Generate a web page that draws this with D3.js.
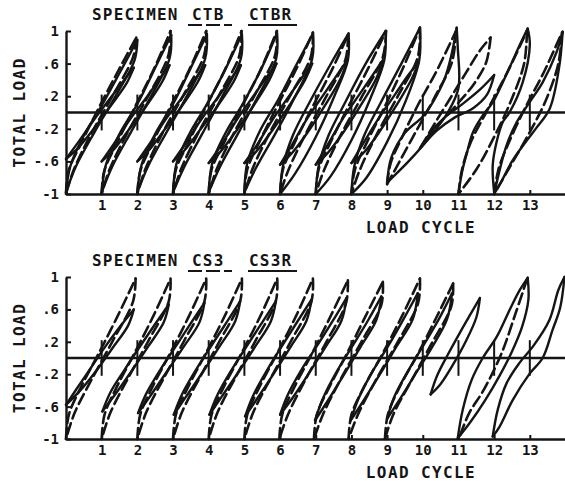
<!DOCTYPE html>
<html>
<head>
<meta charset="utf-8">
<script src="https://cdn.jsdelivr.net/npm/d3@7"></script>
<style>
  body { margin: 0; background: #fff; }
  text { font-family: "DejaVu Sans Mono", monospace; font-weight: bold; fill: #151515; }
</style>
</head>
<body>
<svg id="chart" width="565" height="481"></svg>
<script>
// load cycle ticks and load ticks
const cycleTicks = [1, 2, 3, 4, 5, 6, 7, 8, 9, 10, 11, 12, 13]
const loadTicks = [-1, -0.6, -0.2, 0.2, 0.6, 1]
const loadLabels = ['-1', '-.6', '-.2', '.2', '.6', '1']
// little vertical reversal marks at each cycle
const reversalLoad = [0.22, -0.22]

// specimen CTB (dashed), one loop per cycle, [cycle, load]
const ctbLoops = [
  [[0, -1], [0.07, -0.72], [0.4, -0.4], [0.9, 0.04], [1.45, 0.5], [1.97, 0.92], [1.88, 0.68], [1.3, 0.2], [0.72, -0.25], [0.22, -0.7], [0, -1]],
  [[1, -1], [1.07, -0.72], [1.4, -0.4], [1.9, 0.04], [2.45, 0.52], [2.93, 1.0], [2.87, 0.7], [2.3, 0.2], [1.72, -0.25], [1.22, -0.7], [1, -1]],
  [[2, -1], [2.08, -0.72], [2.4, -0.4], [2.9, 0.05], [3.45, 0.52], [3.93, 1.0], [3.87, 0.7], [3.3, 0.22], [2.72, -0.24], [2.22, -0.7], [2, -1]],
  [[3, -1], [3.08, -0.7], [3.42, -0.38], [3.9, 0.05], [4.45, 0.52], [4.92, 1.0], [4.86, 0.7], [4.3, 0.22], [3.72, -0.24], [3.22, -0.7], [3, -1]],
  [[4, -1], [4.08, -0.7], [4.42, -0.38], [4.9, 0.05], [5.45, 0.52], [5.91, 1.0], [5.86, 0.7], [5.3, 0.22], [4.72, -0.24], [4.22, -0.7], [4, -1]],
  [[5, -1], [5.08, -0.7], [5.42, -0.36], [5.9, 0.06], [6.45, 0.53], [6.92, 0.98], [6.86, 0.68], [6.3, 0.22], [5.72, -0.24], [5.22, -0.7], [5, -1]],
  [[6, -1], [6.08, -0.7], [6.42, -0.36], [6.9, 0.06], [7.45, 0.52], [7.9, 0.95], [7.84, 0.66], [7.3, 0.2], [6.72, -0.26], [6.22, -0.72], [6, -1]],
  [[7, -1], [7.08, -0.7], [7.42, -0.36], [7.9, 0.06], [8.48, 0.55], [8.97, 1.0], [8.88, 0.68], [8.3, 0.2], [7.72, -0.26], [7.22, -0.72], [7, -1]],
  [[8, -1], [8.1, -0.7], [8.44, -0.36], [8.92, 0.06], [9.45, 0.55], [9.92, 1.04], [9.86, 0.68], [9.3, 0.2], [8.72, -0.26], [8.22, -0.72], [8, -1]],
  [[9, -0.88], [9.1, -0.62], [9.4, -0.32], [9.85, 0.08], [10.4, 0.52], [10.93, 1.0], [10.82, 0.62], [10.35, 0.2], [9.85, -0.2], [9.35, -0.6], [9, -0.88]],
  [[9.95, -0.42], [10.3, -0.16], [10.75, 0.16], [11.2, 0.48], [11.6, 0.76], [11.9, 0.92], [11.78, 0.62], [11.45, 0.36], [11.0, 0.12], [10.5, -0.12], [9.95, -0.42]],
  [[11, -1], [11.1, -0.7], [11.35, -0.36], [11.8, 0.02], [12.4, 0.52], [12.92, 1.0], [12.84, 0.6], [12.45, 0.12], [12.0, -0.3], [11.5, -0.7], [11, -1]],
  [[12, -1], [12.12, -0.7], [12.4, -0.38], [12.85, 0.04], [13.4, 0.5], [13.9, 0.98], [13.8, 0.6], [13.45, 0.15], [12.95, -0.28], [12.45, -0.66], [12, -1]]
]

// specimen CTBR (solid)
const ctbrLoops = [
  [[0, -0.98], [0.12, -0.66], [0.48, -0.3], [1.02, 0.1], [1.52, 0.5], [2.0, 0.89], [1.92, 0.64], [1.36, 0.18], [0.8, -0.24], [0.28, -0.66], [0, -0.98]],
  [[1, -0.98], [1.12, -0.64], [1.48, -0.28], [2.02, 0.12], [2.5, 0.55], [2.95, 0.95], [2.9, 0.66], [2.36, 0.18], [1.82, -0.24], [1.3, -0.66], [1, -0.98]],
  [[2, -0.98], [2.12, -0.64], [2.48, -0.28], [3.02, 0.12], [3.5, 0.55], [3.95, 0.96], [3.9, 0.66], [3.36, 0.18], [2.82, -0.24], [2.3, -0.66], [2, -0.98]],
  [[3, -0.98], [3.1, -0.62], [3.46, -0.26], [4.0, 0.14], [4.5, 0.56], [4.93, 0.96], [4.9, 0.66], [4.36, 0.18], [3.82, -0.26], [3.3, -0.68], [3, -0.98]],
  [[4, -0.98], [4.1, -0.62], [4.46, -0.26], [5.0, 0.14], [5.5, 0.56], [5.91, 0.97], [5.89, 0.66], [5.36, 0.18], [4.82, -0.26], [4.3, -0.68], [4, -0.98]],
  [[5, -0.98], [5.08, -0.62], [5.42, -0.24], [5.95, 0.16], [6.45, 0.58], [6.92, 0.97], [6.9, 0.66], [6.38, 0.16], [5.84, -0.28], [5.3, -0.7], [5, -0.98]],
  [[6, -1], [6.08, -0.66], [6.36, -0.28], [6.82, 0.12], [7.4, 0.58], [7.92, 0.97], [7.9, 0.64], [7.52, 0.2], [7.0, -0.3], [6.42, -0.75], [6, -1]],
  [[7, -1], [7.08, -0.66], [7.36, -0.28], [7.82, 0.12], [8.4, 0.6], [8.96, 1.0], [8.92, 0.64], [8.52, 0.16], [8.0, -0.34], [7.42, -0.78], [7, -1]],
  [[8, -1], [8.08, -0.66], [8.36, -0.28], [8.82, 0.12], [9.4, 0.6], [9.92, 1.04], [9.9, 0.64], [9.52, 0.14], [9.0, -0.36], [8.42, -0.8], [8, -1]],
  [[9, -0.86], [9.12, -0.55], [9.5, -0.25], [10.0, -0.05], [10.3, 0.14], [10.6, 0.4], [10.8, 0.7], [10.95, 1.04], [10.98, 0.8], [11.0, 0.3], [10.7, 0.0], [10.2, -0.3], [9.6, -0.6], [9, -0.86]],
  [[9.92, -0.44], [10.3, -0.2], [10.7, -0.03], [11.1, 0.1], [11.6, 0.28], [12.0, 0.46], [11.8, 0.22], [11.4, 0.05], [10.9, -0.06], [10.4, -0.22], [9.92, -0.44]],
  [[11, -1], [11.1, -0.73], [11.24, -0.49], [11.41, -0.24], [11.69, -0.03], [11.97, 0.13], [12.43, 0.55], [12.72, 0.83], [12.94, 1.03], [13.0, 0.83], [12.8, 0.37], [12.43, 0.0], [12.24, -0.12], [12.07, -0.36], [11.96, -0.65], [12, -0.98]],
  [[12, -1], [12.17, -0.68], [12.35, -0.4], [12.63, -0.12], [13.0, 0.13], [13.36, 0.37], [13.75, 0.74], [13.92, 0.99], [13.82, 0.55], [13.56, 0.05], [13.2, -0.18], [12.92, -0.34], [12.5, -0.6], [12.2, -0.85], [12, -1]]
]

// CTBR partial cycles to about +-0.6 load
const ctbrSmallLoops = [
  [[0, -0.57], [0.35, -0.36], [0.8, -0.08], [1.25, 0.18], [1.6, 0.38], [1.9, 0.55], [1.7, 0.36], [1.25, 0.08], [0.78, -0.2], [0.33, -0.44], [0, -0.57]],
  [[1, -0.6], [1.35, -0.38], [1.8, -0.08], [2.25, 0.18], [2.6, 0.4], [2.9, 0.58], [2.7, 0.38], [2.25, 0.08], [1.78, -0.2], [1.33, -0.46], [1, -0.6]],
  [[2, -0.6], [2.35, -0.38], [2.8, -0.08], [3.25, 0.18], [3.6, 0.4], [3.9, 0.58], [3.7, 0.38], [3.25, 0.08], [2.78, -0.2], [2.33, -0.46], [2, -0.6]],
  [[3, -0.6], [3.35, -0.38], [3.8, -0.08], [4.25, 0.18], [4.6, 0.4], [4.9, 0.58], [4.7, 0.38], [4.25, 0.08], [3.78, -0.2], [3.33, -0.46], [3, -0.6]],
  [[4, -0.62], [4.35, -0.4], [4.8, -0.08], [5.25, 0.2], [5.6, 0.42], [5.9, 0.6], [5.7, 0.4], [5.25, 0.08], [4.78, -0.22], [4.33, -0.48], [4, -0.62]],
  [[5, -0.62], [5.35, -0.4], [5.8, -0.08], [6.25, 0.2], [6.6, 0.42], [6.9, 0.6], [6.7, 0.4], [6.25, 0.08], [5.78, -0.22], [5.33, -0.48], [5, -0.62]],
  [[6, -0.64], [6.33, -0.4], [6.78, -0.06], [7.22, 0.22], [7.58, 0.45], [7.88, 0.64], [7.7, 0.42], [7.25, 0.08], [6.78, -0.24], [6.33, -0.5], [6, -0.64]],
  [[7, -0.64], [7.33, -0.4], [7.78, -0.06], [8.22, 0.22], [8.58, 0.45], [8.88, 0.64], [8.7, 0.42], [8.25, 0.08], [7.78, -0.24], [7.33, -0.5], [7, -0.64]],
  [[8, -0.62], [8.33, -0.38], [8.78, -0.06], [9.22, 0.22], [9.58, 0.45], [9.88, 0.62], [9.7, 0.42], [9.25, 0.08], [8.78, -0.24], [8.33, -0.5], [8, -0.62]]
]

// specimen CS3 (dashed)
const cs3Loops = [
  [[0, -1], [0.08, -0.7], [0.42, -0.36], [0.92, 0.06], [1.45, 0.52], [1.95, 0.98], [1.88, 0.7], [1.32, 0.22], [0.75, -0.24], [0.24, -0.68], [0, -1]],
  [[1, -1], [1.08, -0.7], [1.42, -0.36], [1.92, 0.06], [2.45, 0.52], [2.93, 0.98], [2.88, 0.7], [2.32, 0.22], [1.75, -0.24], [1.24, -0.68], [1, -1]],
  [[2, -1], [2.08, -0.7], [2.42, -0.36], [2.92, 0.06], [3.45, 0.52], [3.93, 0.98], [3.88, 0.7], [3.32, 0.22], [2.75, -0.24], [2.24, -0.68], [2, -1]],
  [[3, -1], [3.08, -0.7], [3.42, -0.36], [3.92, 0.06], [4.45, 0.52], [4.93, 0.98], [4.88, 0.7], [4.32, 0.22], [3.75, -0.24], [3.24, -0.68], [3, -1]],
  [[4, -1], [4.08, -0.7], [4.42, -0.36], [4.92, 0.06], [5.45, 0.52], [5.92, 0.98], [5.88, 0.7], [5.32, 0.22], [4.75, -0.24], [4.24, -0.68], [4, -1]],
  [[5, -1], [5.08, -0.7], [5.42, -0.36], [5.92, 0.06], [6.45, 0.52], [6.92, 0.98], [6.88, 0.7], [6.32, 0.22], [5.75, -0.24], [5.24, -0.68], [5, -1]],
  [[5.98, -1], [6.06, -0.7], [6.4, -0.36], [6.9, 0.06], [7.42, 0.52], [7.9, 0.96], [7.85, 0.68], [7.3, 0.2], [6.72, -0.26], [6.22, -0.7], [5.98, -1]],
  [[6.95, -1], [7.03, -0.7], [7.38, -0.36], [7.88, 0.06], [8.4, 0.52], [8.88, 0.94], [8.84, 0.66], [8.28, 0.2], [7.7, -0.26], [7.2, -0.7], [6.95, -1]],
  [[7.92, -1], [8.0, -0.7], [8.35, -0.36], [8.88, 0.06], [9.42, 0.52], [9.92, 0.98], [9.87, 0.68], [9.3, 0.2], [8.7, -0.26], [8.18, -0.7], [7.92, -1]],
  [[8.94, -1], [9.02, -0.7], [9.35, -0.36], [9.85, 0.04], [10.38, 0.5], [10.85, 0.92], [10.8, 0.64], [10.25, 0.18], [9.68, -0.28], [9.17, -0.7], [8.94, -1]],
  [[11.05, -0.95], [11.3, -0.68], [11.7, -0.4], [12.2, 0.05], [12.6, 0.55], [12.92, 0.97]]
]

// specimen CS3R (solid)
const cs3rLoops = [
  [[0, -0.58], [0.3, -0.38], [0.7, -0.12], [1.1, 0.14], [1.5, 0.38], [1.9, 0.6], [1.74, 0.4], [1.3, 0.12], [0.86, -0.15], [0.4, -0.4], [0, -0.58]],
  [[1.02, -0.66], [1.25, -0.42], [1.65, -0.14], [2.1, 0.16], [2.5, 0.42], [2.88, 0.66], [2.74, 0.44], [2.3, 0.14], [1.84, -0.16], [1.36, -0.46], [1.02, -0.66]],
  [[2.02, -0.68], [2.25, -0.44], [2.65, -0.14], [3.1, 0.16], [3.5, 0.43], [3.88, 0.68], [3.74, 0.44], [3.3, 0.14], [2.84, -0.16], [2.36, -0.47], [2.02, -0.68]],
  [[3.02, -0.7], [3.25, -0.45], [3.65, -0.14], [4.1, 0.17], [4.5, 0.44], [4.88, 0.7], [4.74, 0.45], [4.3, 0.14], [3.84, -0.17], [3.36, -0.48], [3.02, -0.7]],
  [[4.02, -0.7], [4.25, -0.45], [4.65, -0.14], [5.1, 0.17], [5.5, 0.44], [5.88, 0.7], [5.74, 0.45], [5.3, 0.14], [4.84, -0.17], [4.36, -0.48], [4.02, -0.7]],
  [[5.02, -0.72], [5.25, -0.46], [5.65, -0.14], [6.1, 0.18], [6.5, 0.46], [6.88, 0.72], [6.74, 0.46], [6.3, 0.14], [5.84, -0.18], [5.36, -0.5], [5.02, -0.72]],
  [[6.0, -0.7], [6.22, -0.45], [6.62, -0.13], [7.08, 0.18], [7.48, 0.46], [7.86, 0.74], [7.72, 0.46], [7.28, 0.14], [6.82, -0.18], [6.34, -0.5], [6.0, -0.7]],
  [[6.98, -0.77], [7.2, -0.5], [7.6, -0.16], [8.06, 0.17], [8.46, 0.46], [8.84, 0.76], [8.7, 0.47], [8.26, 0.14], [7.8, -0.2], [7.32, -0.54], [6.98, -0.77]],
  [[7.98, -0.77], [8.2, -0.5], [8.6, -0.16], [9.06, 0.17], [9.46, 0.48], [9.86, 0.8], [9.72, 0.48], [9.26, 0.14], [8.8, -0.2], [8.32, -0.54], [7.98, -0.77]],
  [[9.0, -0.75], [9.2, -0.48], [9.6, -0.15], [10.05, 0.18], [10.45, 0.48], [10.82, 0.8], [10.68, 0.48], [10.24, 0.12], [9.79, -0.2], [9.34, -0.52], [9.0, -0.75]],
  [[10.22, -0.45], [10.4, -0.22], [10.7, 0.04], [11.05, 0.32], [11.35, 0.55], [11.6, 0.74], [11.5, 0.5], [11.2, 0.2], [10.85, -0.08], [10.5, -0.32], [10.22, -0.45]],
  [[10.98, -0.99], [11.12, -0.64], [11.37, -0.27], [11.68, 0], [12.07, 0.26], [12.43, 0.59], [12.72, 0.84], [12.94, 0.99], [12.96, 0.72], [12.78, 0.38], [12.5, 0.08], [12.15, -0.22], [11.75, -0.52], [11.32, -0.8], [10.98, -0.99]],
  [[11.96, -0.97], [12.1, -0.64], [12.35, -0.31], [12.71, -0.06], [13.1, 0.15], [13.55, 0.47], [13.8, 0.84], [13.97, 1.0], [13.85, 0.62], [13.64, 0.35], [13.36, 0.0], [13.0, -0.19], [12.52, -0.52], [12.15, -0.85], [11.96, -0.97]]
]

const svg = d3.select('#chart')
const x = d3.scaleLinear().domain([0, 14]).range([66, 565.5])

const panels = [
  { top: 31, bottom: 194, dashedName: 'CTB', solidName: 'CTBR', dashed: ctbLoops, solid: ctbrLoops.concat(ctbrSmallLoops) },
  { top: 277, bottom: 439, dashedName: 'CS3', solidName: 'CS3R', dashed: cs3Loops, solid: cs3rLoops }
]

const line = d3.line()
  .x(function (d) { return x(d[0]) })
  .curve(d3.curveCatmullRom.alpha(0.5))

// split a loop at its peak so the tip stays sharp
function branches (loop) {
  const i = d3.maxIndex(loop, function (d) { return d[1] })
  return [loop.slice(0, i + 1), loop.slice(i)].filter(function (b) { return b.length > 1 })
}

panels.forEach(function (p) {
  const y = d3.scaleLinear().domain([-1, 1]).range([p.bottom, p.top])
  line.y(function (d) { return y(d[1]) })
  const g = svg.append('g')

  // title with legend underlines
  const ty = p.top - 11
  g.append('text').attr('x', 92).attr('y', ty).attr('font-size', 16).attr('letter-spacing', 1.2).text('SPECIMEN')
  g.append('text').attr('x', 192).attr('y', ty).attr('font-size', 16).attr('letter-spacing', 1.2).text(p.dashedName)
  g.append('text').attr('x', 249).attr('y', ty).attr('font-size', 16).attr('letter-spacing', 1.2).text(p.solidName)
  g.append('line').attr('x1', 188).attr('x2', 237).attr('y1', ty + 5).attr('y2', ty + 5)
    .attr('stroke', '#151515').attr('stroke-width', 2).attr('stroke-dasharray', '14,4,14,4,8')
  g.append('line').attr('x1', 248).attr('x2', 297).attr('y1', ty + 5).attr('y2', ty + 5)
    .attr('stroke', '#151515').attr('stroke-width', 2)

  // axes
  const yAxis = g.append('g').attr('transform', 'translate(' + x(0) + ',0)')
    .call(d3.axisLeft(y).tickValues(loadTicks)
      .tickFormat(function (d, i) { return loadLabels[i] })
      .tickSizeInner(-5).tickSizeOuter(0).tickPadding(7))
  const xAxis = g.append('g').attr('transform', 'translate(0,' + y(-1) + ')')
    .call(d3.axisBottom(x).tickValues(cycleTicks).tickSizeInner(-4).tickSizeOuter(0).tickPadding(6))
  ;[yAxis, xAxis].forEach(function (a) {
    a.attr('font-family', null).attr('font-size', null)
    a.select('.domain').attr('stroke', '#151515').attr('stroke-width', 2.4)
    a.selectAll('.tick line').attr('stroke', '#151515').attr('stroke-width', 2)
    a.selectAll('.tick text').attr('font-size', 14).attr('fill', '#151515')
  })

  // zero load line
  g.append('line').attr('x1', x(0)).attr('x2', x(14)).attr('y1', y(0)).attr('y2', y(0))
    .attr('stroke', '#151515').attr('stroke-width', 2.4)

  // reversal marks
  g.selectAll('.rev').data(cycleTicks).enter().append('line')
    .attr('x1', function (d) { return x(d) }).attr('x2', function (d) { return x(d) })
    .attr('y1', y(reversalLoad[0])).attr('y2', y(reversalLoad[1]))
    .attr('stroke', '#151515').attr('stroke-width', 2)

  // hysteresis loops
  g.selectAll('.solid').data(p.solid.flatMap(branches)).enter().append('path')
    .attr('d', line).attr('fill', 'none').attr('stroke', '#151515')
    .attr('stroke-width', 2.4).attr('stroke-linecap', 'round')
  g.selectAll('.dashed').data(p.dashed.flatMap(branches)).enter().append('path')
    .attr('d', line).attr('fill', 'none').attr('stroke', '#151515')
    .attr('stroke-width', 2.6).attr('stroke-linecap', 'round').attr('stroke-dasharray', '11,5')

  // axis titles
  g.append('text').attr('x', 421).attr('y', p.bottom + 39).attr('text-anchor', 'middle')
    .attr('font-size', 16).attr('letter-spacing', 1.4).text('LOAD CYCLE')
  g.append('text').attr('transform', 'translate(25,' + y(0) + ') rotate(-90)').attr('text-anchor', 'middle')
    .attr('font-size', 16).attr('letter-spacing', 1.4).text('TOTAL LOAD')
})
</script>
</body>
</html>
